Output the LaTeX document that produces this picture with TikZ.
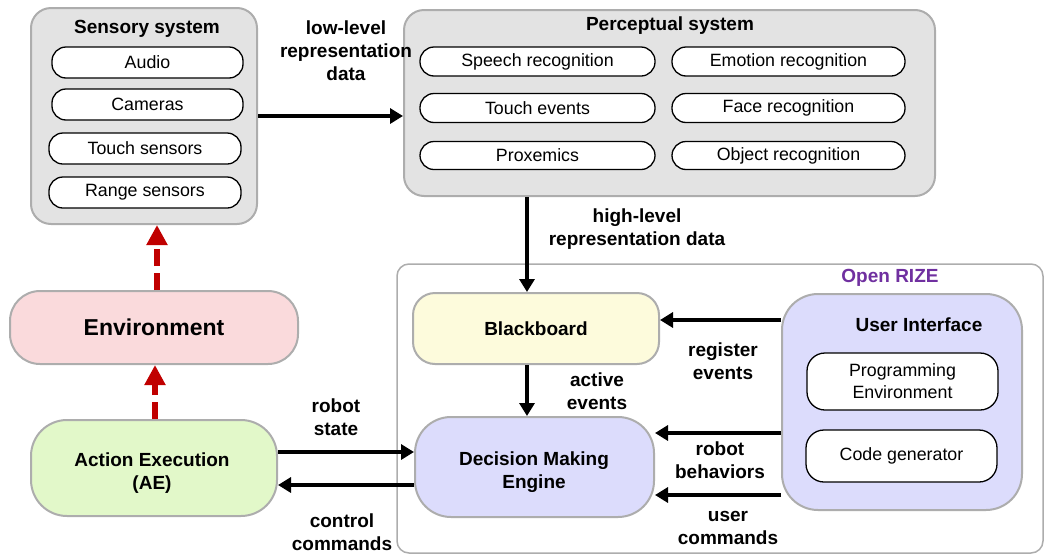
\documentclass[tikz,border=0pt]{standalone}
\usepackage{fontspec}
\setmainfont{Liberation Sans}
\usetikzlibrary{arrows.meta}
\definecolor{boxgray}{HTML}{E3E3E3}
\definecolor{edgegray}{HTML}{ADADAD}
\definecolor{envpink}{HTML}{FADADC}
\definecolor{aegreen}{HTML}{E2F8C9}
\definecolor{bbyellow}{HTML}{FDFBDC}
\definecolor{lav}{HTML}{DCDCFC}
\definecolor{darkred}{HTML}{C00000}
\definecolor{rizepurple}{HTML}{7030A0}
\tikzset{
  lbl/.style={font=\fontsize{19}{23}\selectfont\bfseries, align=center, inner sep=0pt},
  group/.style={draw=edgegray, line width=2pt, fill=boxgray, rounded corners=20pt, inner sep=0pt},
  pill/.style={draw=black, line width=1.3pt, fill=white, rounded corners=14pt, inner sep=0pt,
    font=\fontsize{17.8}{22}\selectfont, align=center},
  block/.style={draw=edgegray, line width=2pt, inner sep=0pt, align=center,
    font=\fontsize{19}{23}\selectfont\bfseries},
  arr/.style={line width=4pt, -{Triangle[length=13pt,width=15pt]}},
  redarr/.style={draw=darkred, line width=6pt, dash pattern=on 17pt off 7pt,
    -{Triangle[length=20pt,width=20pt]}},
}
\begin{document}
\begin{tikzpicture}[x=1pt,y=-1pt]
\useasboundingbox (0,0) rectangle (1045,555);

% Open RIZE frame
\node[draw=edgegray, line width=1.5pt, fill=white, rounded corners=12pt,
  minimum width=646pt, minimum height=289pt, inner sep=0pt] (rize) at (720,408.5) {};
\node[lbl, text=rizepurple] (rizet) at (890,278) {Open RIZE};

% Sensory system
\node[group, minimum width=226pt, minimum height=216pt] (sens) at (144,116) {};
\node[lbl] (senst) at (147,28.5) {Sensory system};
\node[pill, minimum width=191pt, minimum height=31pt] (audio) at (147.5,62.5) {Audio};
\node[pill, minimum width=191pt, minimum height=31pt] (cam) at (147.5,104.5) {Cameras};
\node[pill, minimum width=192pt, minimum height=31pt] (touch) at (145,148.5) {Touch sensors};
\node[pill, minimum width=192pt, minimum height=31pt] (range) at (145,192.5) {Range sensors};

% Perceptual system
\node[group, minimum width=531pt, minimum height=186pt] (perc) at (669.5,103) {};
\node[lbl] (perct) at (670,26) {Perceptual system};
\node[pill, minimum width=235pt, minimum height=29pt] (speech) at (537.5,61.5) {Speech recognition};
\node[pill, minimum width=233pt, minimum height=29pt] (emo) at (788.5,61.5) {Emotion recognition};
\node[pill, minimum width=235pt, minimum height=29pt] (tev) at (537.5,108) {Touch events};
\node[pill, minimum width=233pt, minimum height=29pt] (face) at (788.5,108) {Face recognition};
\node[pill, minimum width=235pt, minimum height=28pt] (prox) at (537.5,155.5) {Proxemics};
\node[pill, minimum width=233pt, minimum height=28pt] (obj) at (788.5,155.5) {Object recognition};

% Environment and action execution
\node[block, fill=envpink, rounded corners=30pt, minimum width=288pt, minimum height=73pt,
  font=\fontsize{23}{27}\selectfont\bfseries] (env) at (154,327.5) {Environment};
\node[block, fill=aegreen, rounded corners=36pt, minimum width=246pt, minimum height=96pt] (ae)
  at (154,468) {};
\node[lbl] (aet) at (152,473) {Action Execution\\(AE)};

% Open RIZE components
\node[block, fill=bbyellow, rounded corners=22pt, minimum width=246pt, minimum height=71pt] (bb)
  at (536,328.5) {Blackboard};
\node[block, fill=lav, rounded corners=36pt, minimum width=239pt, minimum height=100pt] (dme)
  at (534.5,467) {};
\node[lbl] (dmet) at (534,472) {Decision Making\\Engine};
\node[block, fill=lav, rounded corners=36pt, minimum width=240pt, minimum height=216pt] (ui)
  at (902,402) {};
\node[lbl] (uit) at (919,324.5) {User Interface};
\node[pill, rounded corners=18pt, minimum width=191pt, minimum height=57pt] (prog) at (902.5,381.5)
  {Programming\\Environment};
\node[pill, rounded corners=18pt, minimum width=191pt, minimum height=52pt] (code) at (901.5,456)
  {Code generator};

% helper coordinates for connector lines
\coordinate (xa) at (527,0);
\coordinate (xr1) at (157,0);
\coordinate (xr2) at (155,0);
\coordinate (yreg) at (0,320);
\coordinate (ybeh) at (0,433);
\coordinate (yusr) at (0,495);
\coordinate (ystate) at (0,452);
\coordinate (yctl) at (0,485);

% connectors
\draw[arr] (sens.east) -- (sens.east -| perc.west);
\draw[arr] (perc.south -| xa) -- (bb.north -| xa);
\draw[arr] (bb.south -| xa) -- (dme.north -| xa);
\draw[arr] (ui.west |- yreg) -- (bb.east |- yreg);
\draw[arr] (ui.west |- ybeh) -- (dme.east |- ybeh);
\draw[arr] (ui.west |- yusr) -- (dme.east |- yusr);
\draw[arr] (ae.east |- ystate) -- (dme.west |- ystate);
\draw[arr] (dme.west |- yctl) -- (ae.east |- yctl);
\draw[redarr] (env.north -| xr1) -- (sens.south -| xr1);
\draw[redarr] (ae.north -| xr2) -- (env.south -| xr2);

% connector labels
\node[lbl] (l1) at (346,51) {low-level\\representation\\data};
\node[lbl] (l2) at (637,229) {high-level\\representation data};
\node[lbl] (l3) at (597,391) {active\\events};
\node[lbl] (l4) at (723,361) {register\\events};
\node[lbl] (l5) at (720,460) {robot\\behaviors};
\node[lbl] (l6) at (728,528) {user\\commands};
\node[lbl] (l7) at (336,417) {robot\\state};
\node[lbl] (l8) at (342,532) {control\\commands};
\end{tikzpicture}
\end{document}
